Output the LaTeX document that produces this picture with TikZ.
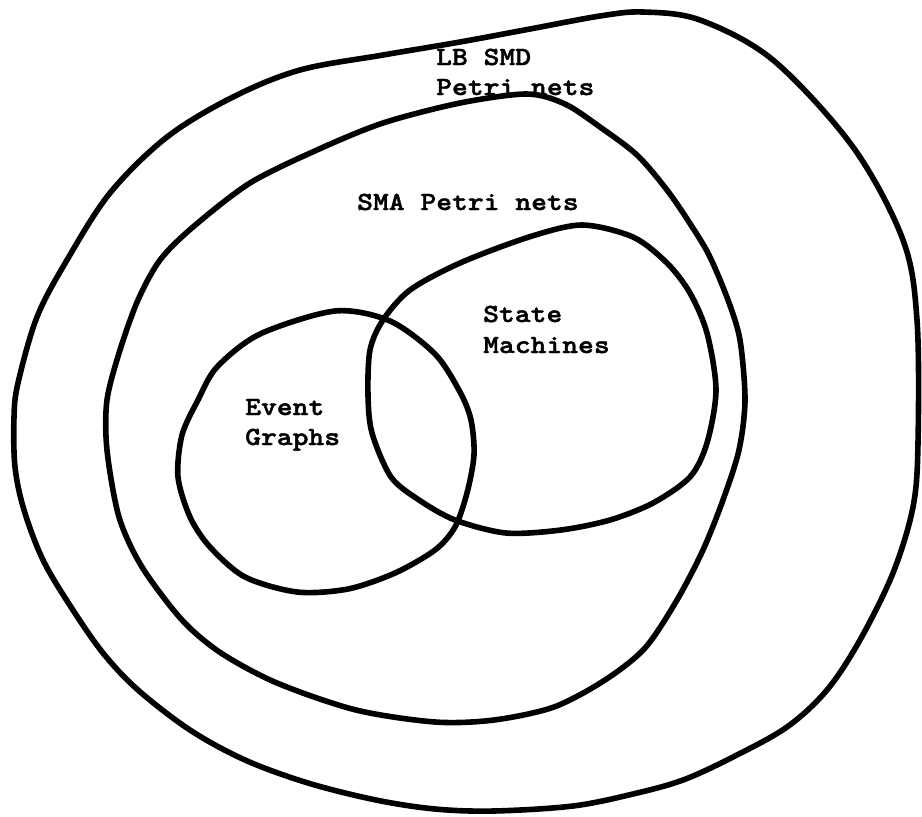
\documentclass[tikz,border=0pt]{standalone}
\usepackage{fontspec}
\newfontfamily\twfont{lmmonolt10-bold}[Extension=.otf,FakeStretch=1.15,FakeBold=1.6]
\begin{document}
\begin{tikzpicture}[x=1pt,y=-1pt,
  curve/.style={line width=5.6pt,line join=round},
  lbl/.style={font=\fontsize{26.2}{31}\selectfont\twfont,inner sep=0pt,anchor=base west}]
\useasboundingbox (0,0) rectangle (922,817);
% outer curve
\draw[curve] plot[smooth cycle,tension=0.55] coordinates {
 (643,12) (700,20) (773,60) (853,147) (903,240)
 (917,320) (918,443) (913,507) (893,573) (860,640) (827,690) (787,727)
 (733,757) (683,780) (633,794) (573,806) (494,811) (435,809) (376,800) (308,783)
 (245,760) (190,730) (138,690) (103,653) (71,607) (43,560) (24,510) (15,467)
 (14,417) (18,383) (37,317) (67,260) (110,193) (167,137) (233,97) (300,70)
 (383,55) (460,42) (530,29) (600,16)};
% middle curve
\draw[curve] plot[smooth cycle,tension=0.5] coordinates {
 (527,94) (565,104) (600,127) (637,155) (667,190) (689,222) (709,255) (728,300)
 (740,340) (745,400) (739,450) (723,500) (703,550) (677,600) (645,648) (605,680)
 (554,707) (494,720) (435,722) (356,710) (277,683) (221,653) (182,620) (142,567)
 (119,517) (107,450) (107,400) (120,350) (138,300) (160,260) (193,227) (250,183)
 (317,150) (383,123) (460,103)};
% state machines
\draw[curve] plot[smooth cycle,tension=0.5] coordinates {
 (582,225) (633,237) (667,263) (690,293) (707,333) (716,390) (707,443) (690,477)
 (653,503) (610,520) (561,530) (506,533) (455,520) (419,500) (391,477) (372,433)
 (368,395) (370,350) (383,320) (410,290) (460,263) (529,237)};
% event graphs
\draw[curve] plot[smooth cycle,tension=0.5] coordinates {
 (335,311) (390,321) (435,354) (460,392) (471,420) (474,455) (467,493) (455,527)
 (435,550) (395,573) (348,589) (297,592) (245,577) (210,547) (190,517) (178,477)
 (182,435) (198,400) (217,367) (260,334)};
\node[lbl] (lb1) at (436,65) {LB SMD};
\node[lbl] (lb2) at (436,95) {Petri nets};
\node[lbl] (sma) at (357,210) {SMA Petri nets};
\node[lbl] (sm1) at (483,322) {State};
\node[lbl] (sm2) at (483,353) {Machines};
\node[lbl] (eg1) at (245,415) {Event};
\node[lbl] (eg2) at (245,445) {Graphs};
\end{tikzpicture}
\end{document}
